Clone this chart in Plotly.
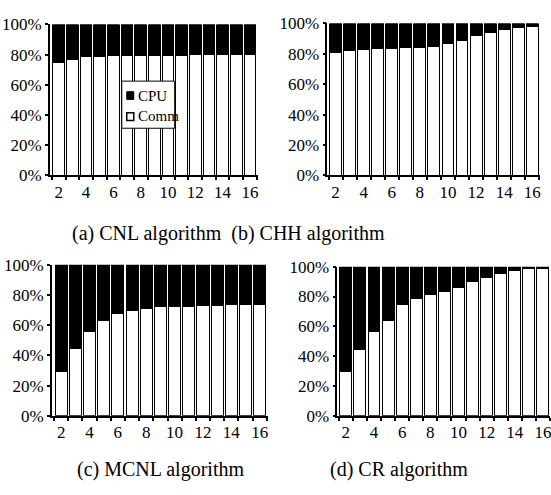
import plotly.graph_objects as go

W, H = 551, 495

procs = list(range(2, 17))
x_ticks = [2, 4, 6, 8, 10, 12, 14, 16]
y_ticks = [0, 20, 40, 60, 80, 100]
y_tick_text = ["0%", "20%", "40%", "60%", "80%", "100%"]

comm_cnl = [75, 77, 78.5, 79, 79.5, 79.5, 79.5, 79.5, 79.5, 79.5, 80, 80, 80, 80, 80]
comm_chh = [81, 82.5, 83, 83.5, 83.5, 84, 84, 85, 86.7, 89, 92, 94, 96, 97.5, 98]
comm_mcnl = [29, 44.4, 56, 63.4, 67.7, 69.8, 71.2, 72.3, 72.5, 72.5, 73, 73, 73.4, 73.4, 73.4]
comm_cr = [29.5, 44.5, 56.3, 64, 74.8, 79, 81.3, 83.4, 86, 90, 93, 95.7, 97.4, 98.5, 99]

captions = ["(a) CNL algorithm  (b) CHH algorithm", "(c) MCNL algorithm", "(d) CR algorithm"]
legend_labels = ["CPU", "Comm"]

FONT = "Liberation Serif, Times New Roman, serif"

def px_x(p):
    return p / W

def px_y(p):
    return 1 - p / H

# panel geometry in pixels: (x0, x1, ytop, ybottom) and x range
panels = [
    (comm_cnl, (50, 258, 16, 173), [1.35, 16.56]),
    (comm_chh, (328, 541, 15, 173), [1.42, 16.55]),
    (comm_mcnl, (52, 268, 266, 423), [1.35, 16.55]),
    (comm_cr, (338, 551, 268, 423), [1.4, 16.5]),
]

tickfont = dict(family=FONT, size=17, color="black")

fig = go.Figure()
layout = {}
for i, (comm, (x0, x1, yt, yb), xr) in enumerate(panels):
    n = "" if i == 0 else str(i + 1)
    cpu = [100 - c for c in comm]
    fig.add_trace(go.Bar(x=procs, y=comm, name="Comm", xaxis="x" + n, yaxis="y" + n,
                         marker=dict(color="white", line=dict(color="black", width=1)),
                         showlegend=False))
    fig.add_trace(go.Bar(x=procs, y=cpu, name="CPU", xaxis="x" + n, yaxis="y" + n,
                         marker=dict(color="black", line=dict(color="black", width=1)),
                         showlegend=False))
    layout["xaxis" + n] = dict(
        domain=[px_x(x0), px_x(x1)], anchor="y" + n, range=xr,
        tickmode="array", tickvals=x_ticks, ticktext=[str(v) for v in x_ticks],
        ticks="outside", ticklen=0, ticklabeloverflow="allow",
        showline=True, linecolor="black", linewidth=2, showgrid=False, zeroline=False,
        tickfont=tickfont,
        minor=dict(ticks="outside", ticklen=3, tick0=1.5, dtick=1, tickcolor="black",
                   tickwidth=2, showgrid=False),
    )
    layout["yaxis" + n] = dict(
        domain=[px_y(yb), px_y(yt)], anchor="x" + n, range=[0, 100],
        tickmode="array", tickvals=y_ticks, ticktext=y_tick_text,
        ticks="outside", ticklen=3, tickcolor="black", tickwidth=1.5,
        showline=True, linecolor="black", linewidth=1.5, showgrid=False, zeroline=False,
        tickfont=tickfont,
    )

fig.update_layout(**layout)

annotations = [
    dict(text=captions[0], x=px_x(70), y=px_y(233), size=20),
    dict(text=captions[1], x=px_x(75), y=px_y(479), size=20),
    dict(text=captions[2], x=px_x(329), y=px_y(479), size=20),
    dict(text=legend_labels[0], x=px_x(136), y=px_y(90), size=15),
    dict(text=legend_labels[1], x=px_x(136), y=px_y(111), size=15),
]
annotations = [
    dict(text=a["text"], x=a["x"], y=a["y"], xref="paper", yref="paper",
         xanchor="left", yanchor="middle", showarrow=False,
         font=dict(family=FONT, size=a["size"], color="black"))
    for a in annotations
]

shapes = [
    dict(type="rect", x0=px_x(122), x1=px_x(175), y0=px_y(124), y1=px_y(75),
         fillcolor="white", line=dict(color="black", width=1)),
    dict(type="rect", x0=px_x(127), x1=px_x(134), y0=px_y(94), y1=px_y(86),
         fillcolor="black", line=dict(color="black", width=1)),
    dict(type="rect", x0=px_x(127), x1=px_x(134), y0=px_y(116), y1=px_y(108),
         fillcolor="white", line=dict(color="black", width=1.5)),
]
for s in shapes:
    s.update(xref="paper", yref="paper", layer="above")

fig.update_layout(
    width=W, height=H, margin=dict(l=0, r=0, t=0, b=0),
    paper_bgcolor="white", plot_bgcolor="white",
    barmode="stack", bargap=0.15,
    annotations=annotations, shapes=shapes, showlegend=False,
    font=dict(family=FONT, color="black", size=16),
)

fig.write_html("out.html", post_script="document.body.style.margin='0';",
               config={"displayModeBar": False})
